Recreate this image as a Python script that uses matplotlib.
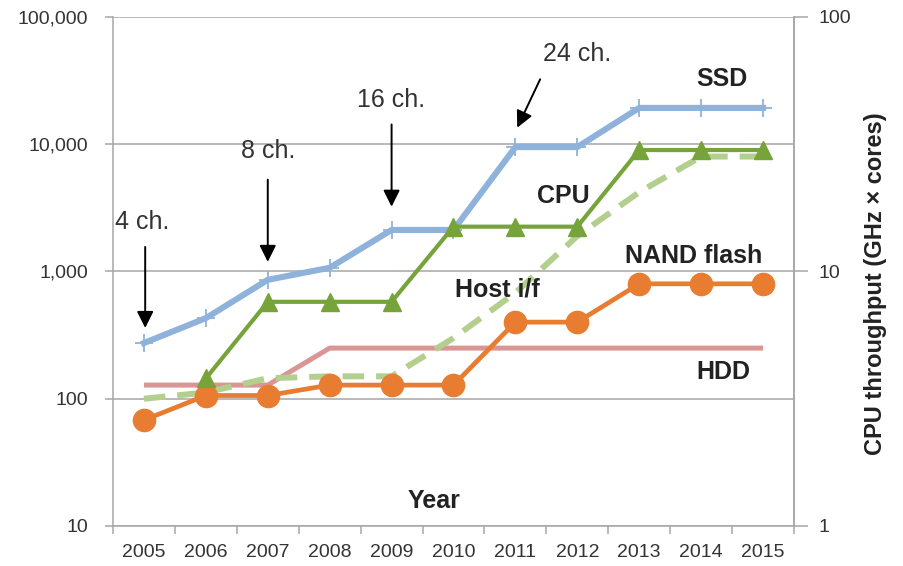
import numpy as np
import matplotlib
matplotlib.use('Agg')
import matplotlib.pyplot as plt
from matplotlib.ticker import FixedLocator, NullLocator

plt.rcParams['font.family'] = ['Liberation Sans', 'DejaVu Sans']

# data
years = ['2005', '2006', '2007', '2008', '2009', '2010', '2011', '2012', '2013', '2014', '2015']
ssd = [274, 430, 860, 1070, 2120, 2120, 9500, 9500, 19300, 19300, 19300]
host_if = [100, 112, 145, 150, 150, 300, 680, 1900, 4200, 8000, 8000]
nand = [68, 106, 106, 128, 128, 128, 400, 400, 800, 800, 800]
hdd = [128, 128, 128, 250, 250, 250, 250, 250, 250, 250, 250]
cpu = [np.nan, 3.8, 7.6, 7.6, 7.6, 15, 15, 15, 30, 30, 30]   # right axis

left_ticks = [10, 100, 1000, 10000, 100000]
left_labels = ['10', '100', '1,000', '10,000', '100,000']
right_ticks = [1, 10, 100]
right_labels = ['1', '10', '100']

x = np.arange(len(years))
grey = '#A6A6A6'
txt = '#333333'

fig = plt.figure(figsize=(9.04, 5.66), dpi=100)
ax = fig.add_axes([0.125, 0.0707, 0.7533, 0.8993])

ax.plot(x, hdd, color='#D99694', lw=3.6, solid_capstyle='butt', zorder=3)
ax.plot(x, host_if, color='#B3CF8E', lw=4.3, dashes=(3.6, 2.0), zorder=4)
ax.plot(x, nand, color='#E87D31', lw=3.4, marker='o', ms=16, zorder=5)
ax.plot(x, ssd, color='#8FB2DB', lw=4.4, marker='+', ms=13, mew=1.3, zorder=6)

ax.set_yscale('log')
ax.set_ylim(10, 100000)
ax.set_xlim(-0.5, len(years) - 0.5)
ax.yaxis.set_major_locator(FixedLocator(left_ticks))
ax.set_yticklabels(left_labels)
ax.yaxis.set_minor_locator(NullLocator())
ax.grid(axis='y', color=grey, lw=1.1)
ax.set_axisbelow(True)

# category axis: ticks at the boundaries, labels in the middle
ax.set_xticks(np.arange(-0.5, len(years), 1.0))
ax.set_xticklabels([])
ax.set_xticks(x, minor=True)
ax.set_xticklabels(years, minor=True)
ax.tick_params(axis='x', which='major', length=6, width=1.1, color=grey, direction='out')
ax.tick_params(axis='x', which='minor', length=0, pad=13, labelsize=14, labelcolor=txt)
ax.tick_params(axis='y', length=6, width=1.1, color=grey, pad=12, labelsize=14, labelcolor=txt)

for s in ['left', 'right', 'bottom']:
    ax.spines[s].set_color(grey)
    ax.spines[s].set_linewidth(1.1)
ax.spines['top'].set_visible(False)

ax2 = ax.twinx()
ax2.plot(x, cpu, color='#77A33B', lw=3.0, marker='^', ms=13, zorder=7)
ax2.set_yscale('log')
ax2.set_ylim(1, 100)
ax2.yaxis.set_major_locator(FixedLocator(right_ticks))
ax2.set_yticklabels(right_labels)
ax2.yaxis.set_minor_locator(NullLocator())
ax2.tick_params(axis='y', length=10, width=1.1, color=grey, pad=8, labelsize=14, labelcolor=txt)
for s in ['left', 'top', 'bottom']:
    ax2.spines[s].set_visible(False)
ax2.spines['right'].set_color(grey)
ax2.spines['right'].set_linewidth(1.1)

fig.text(0.969, 0.499, 'CPU throughput (GHz × cores)', rotation=90,
         ha='center', va='center', fontsize=17, fontweight='bold', color='#222222')

# channel annotations
arrow = dict(arrowstyle='-|>', color='black', lw=1.4, mutation_scale=25,
             shrinkA=0, shrinkB=0)
notes = [('4 ch.', (-0.03, 2450), (0.02, 1560), (0.02, 360)),
         ('8 ch.', (2.0, 8770), (2.0, 5270), (2.0, 1190)),
         ('16 ch.', (3.99, 22100), (4.0, 14300), (4.0, 3230)),
         ('24 ch.', (7.0, 51000), (6.4, 32400), (6.03, 13500))]
for label, tpos, start, tip in notes:
    ax.text(tpos[0], tpos[1], label, ha='center', va='center', fontsize=18, color=txt, zorder=8)
    ax.annotate('', xy=tip, xytext=start, arrowprops=arrow, zorder=8)

# series labels
bold = dict(fontsize=18, fontweight='bold', color='#222222', ha='center', va='center',
            transform=ax.transAxes, zorder=9)
ax.text(0.894, 0.878, 'SSD', **bold)
ax.text(0.661, 0.649, 'CPU', **bold)
ax.text(0.853, 0.531, 'NAND flash', **bold)
ax.text(0.564, 0.465, 'Host i/f', **bold)
ax.text(0.896, 0.302, 'HDD', **bold)
ax.text(0.471, 0.049, 'Year', **bold)

fig.savefig('out.png', dpi=100)
